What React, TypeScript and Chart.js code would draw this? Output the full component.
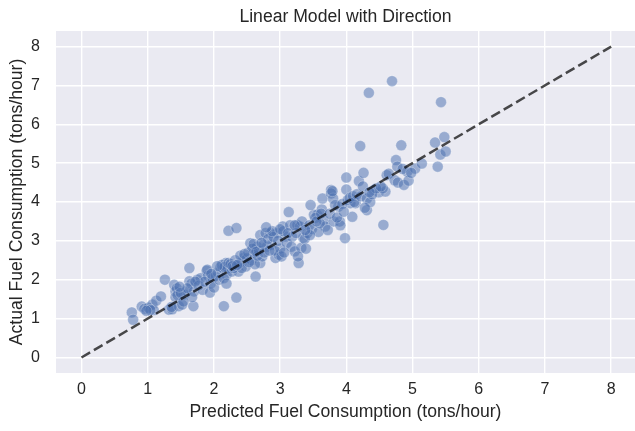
import React, { useEffect, useRef } from "react";
import { Chart, registerables } from "chart.js";

Chart.register(...registerables);

// Model predictions (x) and observed values (y), tons/hour
const predicted = [
  0.76, 0.78, 0.91, 0.95, 1.01, 1.07, 1.09, 1.13, 1.2, 1.04, 0.98,
  1.26, 1.32, 1.37, 1.4, 1.42, 1.42, 1.44, 1.47, 1.52, 1.55, 1.58, 1.63, 1.63, 1.66, 1.69, 1.7, 1.36, 1.45, 1.5, 1.6, 1.67, 1.54, 1.48,
  1.75, 1.8, 1.83, 1.89, 1.91, 1.94, 1.95, 1.77, 1.86, 1.9, 1.98, 2.0, 2.03, 2.06, 2.08, 2.1, 2.13, 2.15, 2.18, 2.19, 2.21, 2.12, 2.16, 2.15, 2.19, 1.72, 2.05, 1.96,
  2.22, 2.22, 2.34, 2.27, 2.37, 2.43, 2.45, 2.48, 2.55, 2.6, 2.63, 2.65, 2.7, 2.7, 2.73, 2.34, 2.25, 2.3, 2.32, 2.38, 2.4, 2.42, 2.5, 2.52, 2.57, 2.58, 2.62, 2.66, 2.68, 2.28, 2.35, 2.46, 2.53, 2.6, 2.64,
  2.78, 2.8, 2.85, 2.87, 2.93, 2.95, 2.98, 3.0, 3.04, 3.08, 3.13, 2.75, 2.82, 2.9, 2.92, 2.97, 3.02, 3.05, 3.1, 3.15, 3.18, 2.76, 2.84, 2.72, 2.88, 3.0, 3.12, 3.17, 2.79, 3.06,
  3.22, 3.26, 3.28, 3.3, 3.32, 3.35, 3.37, 3.39, 3.41, 3.51, 3.56, 3.63, 3.64, 3.66, 3.68, 3.24, 3.27, 3.33, 3.44, 3.46, 3.48, 3.53, 3.58, 3.6, 3.45, 3.38, 3.55, 3.62, 3.22,
  3.72, 3.77, 3.77, 3.8, 3.81, 3.88, 3.9, 3.91, 3.98, 4.0, 4.0, 4.06, 4.09, 4.14, 4.19, 3.75, 3.83, 3.86, 3.94, 3.96, 4.02, 4.05, 4.1, 4.12, 4.16, 3.79,
  4.21, 4.26, 4.22, 4.31, 4.31, 4.36, 4.41, 4.49, 4.56, 4.59, 4.61, 4.55, 4.34, 4.69, 4.64, 4.25, 4.28, 4.39, 4.45, 4.52, 4.35,
  4.73, 4.75, 4.77, 4.78, 4.83, 4.87, 4.92, 4.94, 5.04, 5.14, 5.34, 5.38, 5.42, 5.43, 5.48, 5.5, 4.85, 4.98,
];

const actual = [
  1.16, 0.97, 1.31, 1.25, 1.28, 1.36, 1.22, 1.46, 1.57, 1.22, 1.2,
  2.0, 1.23, 1.24, 1.87, 1.7, 1.55, 1.78, 1.32, 1.36, 1.62, 1.7, 2.3, 1.96, 1.9, 1.32, 1.7, 1.3, 1.6, 1.66, 1.78, 1.55, 1.44, 1.82,
  2.0, 2.04, 1.74, 2.23, 2.1, 1.67, 1.9, 1.85, 1.95, 2.26, 2.04, 1.8, 2.1, 2.18, 2.0, 2.32, 2.3, 1.32, 2.43, 2.13, 2.29, 2.38, 2.33, 2.04, 1.9, 1.95, 2.35, 2.15,
  2.43, 3.26, 3.33, 2.21, 2.21, 2.47, 2.56, 2.34, 2.94, 2.68, 2.08, 2.85, 3.15, 2.43, 2.6, 1.54, 2.4, 2.3, 2.5, 2.42, 2.62, 2.3, 2.55, 2.7, 2.5, 2.8, 2.4, 2.62, 2.75, 2.35, 2.38, 2.66, 2.45, 2.92, 2.72,
  3.2, 2.85, 3.2, 2.9, 2.56, 3.2, 2.64, 2.8, 3.37, 3.11, 3.74, 2.9, 3.05, 3.1, 2.75, 3.0, 2.6, 3.25, 2.95, 3.4, 3.1, 2.7, 2.75, 2.95, 3.25, 3.3, 3.2, 2.85, 3.35, 2.7,
  2.73, 3.41, 2.43, 3.37, 2.82, 3.08, 3.05, 2.8, 3.2, 3.67, 3.67, 3.81, 4.09, 3.53, 3.37, 3.2, 2.6, 3.5, 3.4, 3.92, 3.3, 3.59, 3.23, 3.45, 3.15, 3.28, 3.5, 3.7, 3.4,
  3.28, 4.31, 4.22, 4.09, 3.5, 3.88, 3.5, 3.4, 3.07, 4.32, 4.63, 3.97, 3.62, 3.97, 4.54, 3.7, 3.92, 3.6, 3.95, 3.75, 4.05, 4.1, 4.15, 4.0, 4.2, 4.28,
  5.44, 4.75, 4.15, 4.09, 3.79, 4.0, 4.3, 4.25, 3.41, 4.27, 4.69, 4.35, 6.81, 7.11, 4.73, 4.4, 3.85, 4.2, 4.35, 4.4, 4.25,
  4.56, 5.08, 4.91, 4.5, 5.46, 4.44, 4.78, 4.55, 4.86, 4.99, 5.53, 4.91, 5.22, 6.57, 5.67, 5.3, 4.85, 4.75,
];

// Perfect-prediction reference: y = x
const identityLine = [0, 8];

const xMin = -0.385;
const xMax = 8.36;
const yMin = -0.4;
const yMax = 8.4;

const FONT = '"Liberation Sans", Arial, Helvetica, sans-serif';
const TEXT = "#262626";

const plotBackground = {
  id: "plotBackground",
  beforeDraw(chart: any) {
    const { ctx, chartArea: a } = chart;
    ctx.save();
    ctx.fillStyle = "#EAEAF2";
    ctx.fillRect(a.left, a.top, a.right - a.left, a.bottom - a.top);
    ctx.restore();
  },
};

export default function App() {
  const canvasRef = useRef<HTMLCanvasElement>(null);

  useEffect(() => {
    if (!canvasRef.current) return;
    const tickFont = { family: FONT, size: 16 };
    const labelFont = { family: FONT, size: 17.6 };
    const grid = { color: "#FFFFFF", lineWidth: 1.4, drawTicks: false };

    const chart = new Chart(canvasRef.current, {
      type: "scatter",
      data: {
        datasets: [
          {
            type: "line",
            label: "y = x",
            data: identityLine.map((v) => ({ x: v, y: v })),
            borderColor: "rgba(0,0,0,0.7)",
            borderWidth: 2.5,
            borderDash: [10, 4.4],
            pointRadius: 0,
            fill: false,
          },
          {
            label: "Predictions",
            data: predicted.map((x, i) => ({ x, y: actual[i] })),
            backgroundColor: "rgba(76,114,176,0.52)",
            borderColor: "rgba(255,255,255,0.4)",
            borderWidth: 0.7,
            pointRadius: 5.5,
          },
        ],
      },
      options: {
        responsive: false,
        animation: false,
        layout: { autoPadding: false, padding: { top: 0, right: 0, bottom: 0, left: 0 } },
        plugins: {
          legend: { display: false },
          tooltip: { enabled: false },
          title: {
            display: true,
            fullSize: false,
            text: "Linear Model with Direction",
            color: TEXT,
            font: { ...labelFont, weight: "normal" },
            padding: { top: 6.5, bottom: 3.4 },
          },
        },
        scales: {
          x: {
            type: "linear",
            min: xMin,
            max: xMax,
            afterFit(scale: any) {
              scale.height = 58;
              scale.paddingLeft = 0;
              scale.paddingRight = 0;
            },
            ticks: { stepSize: 1, includeBounds: false, padding: 7, color: TEXT, font: tickFont },
            grid,
            border: { display: false },
            title: {
              display: true,
              text: "Predicted Fuel Consumption (tons/hour)",
              color: TEXT,
              font: labelFont,
              padding: { top: 0, bottom: 8 },
            },
          },
          y: {
            type: "linear",
            min: yMin,
            max: yMax,
            afterFit(scale: any) {
              scale.width = 56;
              scale.paddingTop = 0;
              scale.paddingBottom = 0;
            },
            ticks: { stepSize: 1, includeBounds: false, padding: 16, color: TEXT, font: tickFont },
            grid,
            border: { display: false },
            title: {
              display: true,
              text: "Actual Fuel Consumption (tons/hour)",
              color: TEXT,
              font: labelFont,
              padding: { top: 6.5, bottom: 0 },
            },
          },
        },
      } as any,
      plugins: [plotBackground],
    });

    return () => chart.destroy();
  }, []);

  return (
    <div style={{ position: "fixed", left: 0, top: 0, width: 635, height: 431, background: "#FFFFFF" }}>
      <canvas ref={canvasRef} width={635} height={431} style={{ display: "block" }} />
    </div>
  );
}
